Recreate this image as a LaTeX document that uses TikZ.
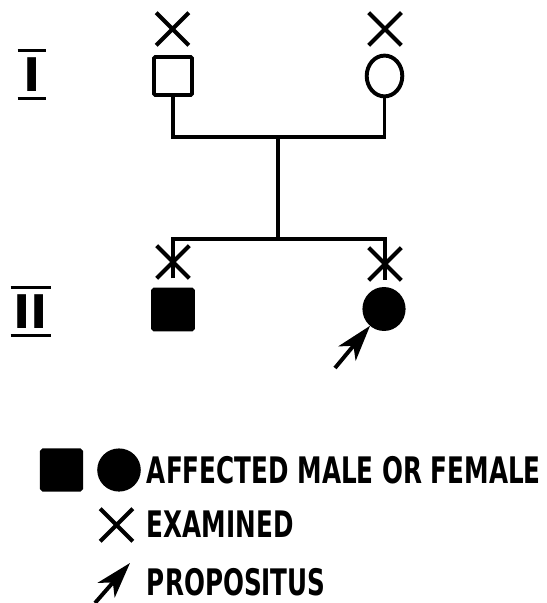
\documentclass[tikz,border=0pt]{standalone}
\usepackage{fontspec}
\newfontfamily\keyfont{DejaVu Sans Condensed}
\newfontfamily\numfont{DejaVu Sans}
\usetikzlibrary{shapes.geometric,shapes.misc,arrows.meta}
\newcommand{\narrow}[1]{\scalebox{0.75}[1]{#1}}
\tikzset{
  male/.style={draw, rectangle, rounded corners=1pt, minimum size=9.5mm, inner sep=0pt},
  female/.style={draw, ellipse, minimum width=8.9mm, minimum height=10.2mm, inner sep=0pt},
  affected/.style={fill=black},
  examined/.style={draw, cross out, minimum size=7.2mm, inner sep=0pt},
  pointer/.style={-{Stealth[length=9mm,width=5.6mm,inset=2.5mm]}},
  legend/.style={anchor=west, font=\keyfont\bfseries\fontsize{26}{30}\selectfont, inner sep=0pt},
  gen/.style={font=\numfont\bfseries\fontsize{33}{36}\selectfont, inner sep=0pt},
  bar/.style={line width=2.2pt}
}
\begin{document}
\begin{tikzpicture}[x=0.25mm,y=-0.25mm,line width=2.8pt]
\useasboundingbox (0,0) rectangle (546,603);

% generation I
\node[gen] (g1) at (32,75) {I};
\draw[bar] ([xshift=-3.6mm,yshift=1.3mm]g1.north) -- ([xshift=3.6mm,yshift=1.3mm]g1.north);
\draw[bar] ([xshift=-3.6mm,yshift=-1.1mm]g1.south) -- ([xshift=3.6mm,yshift=-1.1mm]g1.south);
\node[male] (f1) at (173,76) {};
\node[female] (m1) at (384.5,76) {};
\node[examined] (xf1) at (172.5,29) {};
\node[examined] (xm1) at (385,29) {};
\coordinate (mate) at (278,137);
\coordinate (sib) at (278,239);
\draw (f1.south) |- (mate) -| (m1.south);
\draw (mate) -- (sib);

% generation II
\node[gen] (g2) at (31,312) {II};
\draw[bar] ([xshift=-5.1mm,yshift=1.4mm]g2.north) -- ([xshift=5.1mm,yshift=1.4mm]g2.north);
\draw[bar] ([xshift=-5.1mm,yshift=-1.2mm]g2.south) -- ([xshift=5.1mm,yshift=-1.2mm]g2.south);
\node[male,affected,minimum size=10mm] (s2) at (173,309.5) {};
\node[female,affected,minimum width=9.8mm,minimum height=10mm] (d2) at (384,309) {};
\node[examined] (xs2) at (173,262) {};
\node[examined] (xd2) at (385,264) {};
\draw (xs2.south) |- (sib) -| (xd2.south);
\coordinate (pr) at (335,368);
\draw[pointer] (pr) -- (d2);

% key
\node[male,affected,minimum size=9.8mm] (lm) at (61.5,470) {};
\node[female,affected,minimum width=9.9mm,minimum height=9.8mm] (lf) at (119,470) {};
\node[legend] (taff) at (145,470) {\narrow{AFFECTED MALE OR FEMALE}};
\node[examined] (lx) at (116.5,525) {};
\node[legend] (texa) at (145,524) {\narrow{EXAMINED}};
\coordinate (la) at (95,603);
\coordinate (lb) at (130,563);
\draw[pointer] (la) -- (lb);
\node[legend] (tpro) at (145,582) {\narrow{PROPOSITUS}};
\end{tikzpicture}
\end{document}
